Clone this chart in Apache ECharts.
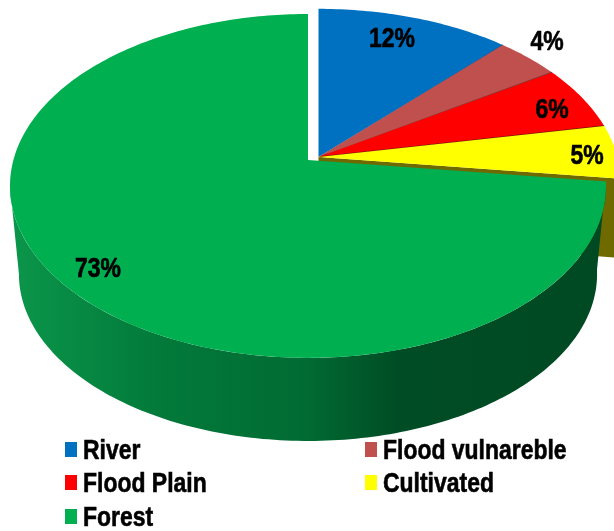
<!DOCTYPE html>
<html>
<head>
<meta charset="utf-8">
<style>html,body{margin:0;padding:0;background:#fff}#chart{width:614px;height:531px}</style>
<script src="https://cdn.jsdelivr.net/npm/echarts@6/dist/echarts.min.js"></script>
</head>
<body>
<div id="chart"></div>
<script>
// Land use shares, clockwise from twelve o'clock
const categories = ['River', 'Flood vulnareble', 'Flood Plain', 'Cultivated', 'Forest'];
const shares = [12, 4, 6, 5, 73];
const colors = ['#0070c0', '#c0504d', '#ff0000', '#ffff00', '#00b050'];
const seamColors = ['#1f5c94', '#773b3a', '#7a1010', null, null];
const labelCentres = [[392, 40], [547, 43], [552, 111], [587, 157], [98, 270]];
const legendSlots = [[65, 442], [365, 442], [65, 475], [365, 475], [65, 509]];

// Perspective disc: the far side of the pie is foreshortened relative to the near side
const DISC = { x: 308, y: 160, a: 294.6, b: 168, p: 0.151, scale: 1 };
const FLOOR = { x: 308, y: 249, a: 294.6, b: 168, p: 0.151, scale: 0.97 };
const LIFTED = { x: 318.5, y: 157, a: 294.6, b: 168, p: 0.151, scale: 1.015 };
const LIFTED_FLOOR_Y = 235;

function project(d, deg) {
  const t = deg * Math.PI / 180, u = Math.sin(t), v = -Math.cos(t), w = 1 - d.p * v;
  return [d.x + d.scale * d.a * u / w, d.y + d.scale * d.b * v / w];
}
function arc(d, from, to) {
  const pts = [], n = Math.max(2, Math.ceil(Math.abs(to - from)));
  for (let i = 0; i <= n; i++) pts.push(project(d, from + (to - from) * i / n));
  return pts;
}

// Bold sans squeezed horizontally gives the narrow look of the lettering
const textFont = 'bold 27px "Liberation Sans", Arial, sans-serif';
const TEXT_SQUEEZE = 0.85;
const WALL_RIGHT = 261.4;

function renderSlice(params, api) {
  const i = params.seriesIndex, start = api.value(0), end = api.value(1);
  const children = [];
  const lifted = i < 4;
  const d = lifted ? LIFTED : DISC;
  if (i === 3) {
    // Cut face of the pulled-out group, seen above the forest slice
    const outer = project(d, end);
    children.push({
      type: 'polygon',
      shape: { points: [[d.x, d.y], outer, [outer[0], 258], [d.x, LIFTED_FLOOR_Y]] },
      style: { fill: '#6f6a00' }
    });
  }
  if (i === 4) {
    // Outer wall of the forest slice, shaded from left to right
    const pts = arc(DISC, start, WALL_RIGHT).concat(arc(FLOOR, WALL_RIGHT, start));
    children.push({
      type: 'polygon',
      shape: { points: pts },
      style: {
        fill: {
          type: 'linear', global: true, x: 10, y: 0, x2: 600, y2: 0,
          colorStops: [
            { offset: 0, color: '#0b964b' },
            { offset: 0.25, color: '#027a3a' },
            { offset: 0.5, color: '#016b33' },
            { offset: 0.66, color: '#004c24' },
            { offset: 1, color: '#004a23' }
          ]
        }
      }
    });
  }
  children.push({
    type: 'polygon',
    shape: { points: [[d.x, d.y]].concat(arc(d, start, end)) },
    style: { fill: colors[i] }
  });
  if (seamColors[i]) {
    const edge = project(d, end);
    children.push({
      type: 'line',
      shape: { x1: d.x + 2, y1: d.y, x2: edge[0], y2: edge[1] },
      style: { stroke: seamColors[i], lineWidth: 1.5 }
    });
  }
  children.push({
    type: 'text',
    z2: 10,
    x: labelCentres[i][0],
    y: labelCentres[i][1],
    scaleX: TEXT_SQUEEZE,
    style: {
      text: shares[i] + '%',
      x: 0, y: 0,
      align: 'center', verticalAlign: 'middle',
      font: textFont, fill: '#000', stroke: '#000', lineWidth: 0.6
    }
  });
  return { type: 'group', children };
}

let running = 0;
const series = categories.map((name, i) => {
  const from = running;
  running += shares[i] * 3.6;
  return {
    type: 'custom',
    name,
    coordinateSystem: 'none',
    silent: true,
    animation: false,
    z: i === 4 ? 3 : 2,
    itemStyle: { color: colors[i] },
    renderItem: renderSlice,
    data: [[from, running]]
  };
});

// Legend keys and names in two columns
const legendItems = categories.flatMap((name, i) => {
  const [x, y] = legendSlots[i];
  return [
    { type: 'rect', left: x, top: y, shape: { width: 12, height: 15 }, style: { fill: colors[i] }, silent: true },
    {
      type: 'text', x: x + 18, y: y + 10, scaleX: TEXT_SQUEEZE, silent: true,
      style: { text: name, x: 0, y: 0, align: 'left', verticalAlign: 'middle', font: textFont, fill: '#000', stroke: '#000', lineWidth: 0.6 }
    }
  ];
});

const chart = echarts.init(document.getElementById('chart'), null, { renderer: 'canvas' });
chart.setOption({
  backgroundColor: '#fff',
  animation: false,
  graphic: { elements: legendItems },
  series
});
</script>
</body>
</html>
